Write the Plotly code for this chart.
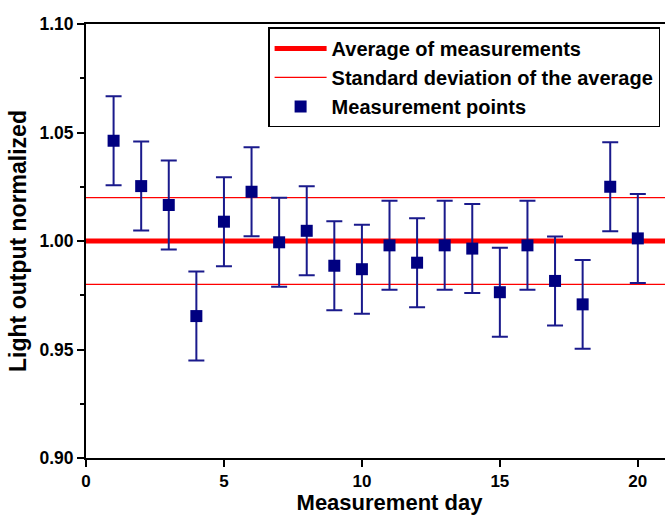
import plotly.graph_objects as go

days = list(range(1, 21))
light_output = [1.0462, 1.0253, 1.0166, 0.9654, 1.0089, 1.0227, 0.9994, 1.0047, 0.9886, 0.9870,
                0.9980, 0.9900, 0.9980, 0.9965, 0.9764, 0.9980, 0.9816, 0.9708, 1.0250, 1.0012]
errors = [0.0205] * 20
average = 1.000
std_dev = 0.020
x_span = [0, 22]

NAVY = "#000080"
RED = "#ff0000"
FONT = "Liberation Sans, Arial, sans-serif"

fig = go.Figure()
fig.add_trace(go.Scatter(
    x=x_span, y=[average, average], mode="lines",
    line=dict(color=RED, width=5), name="Average of measurements"))
fig.add_trace(go.Scatter(
    x=[x_span[0], x_span[1], None, x_span[0], x_span[1]],
    y=[average + std_dev, average + std_dev, None, average - std_dev, average - std_dev],
    mode="lines", line=dict(color=RED, width=1.3),
    name="Standard deviation of the average"))
fig.add_trace(go.Scatter(
    x=days, y=light_output, mode="markers",
    marker=dict(symbol="square", size=12, color=NAVY),
    error_y=dict(type="data", array=errors, visible=True, color="#1a1a8c", thickness=2, width=8),
    name="Measurement points"))

fig.update_layout(
    width=693, height=515,
    margin=dict(l=86, r=0, t=24, b=57),
    paper_bgcolor="white", plot_bgcolor="white",
    font=dict(family=FONT, size=17, color="black"),
    showlegend=True,
    legend=dict(
        x=0.30, y=0.992, xanchor="left", yanchor="top",
        bgcolor="white", bordercolor="black", borderwidth=1.5,
        font=dict(family=FONT, size=20, color="black", weight="bold"),
        itemwidth=52, tracegroupgap=0,
    ),
    xaxis=dict(
        range=x_span, tickmode="array", tickvals=[0, 5, 10, 15, 20],
        showgrid=False, zeroline=False, showline=True, linecolor="black", linewidth=2,
        mirror=True, ticks="outside", ticklen=7, tickwidth=2, tickcolor="black",
        tickfont=dict(family=FONT, size=17, weight="bold"), automargin=False,
        title=dict(text="Measurement day", font=dict(family=FONT, size=22, weight="bold"), standoff=10),
    ),
    yaxis=dict(
        range=[0.90, 1.10], tickmode="array", tickvals=[0.90, 0.95, 1.00, 1.05, 1.10],
        ticktext=["0.90", "0.95", "1.00", "1.05", "1.10"],
        showgrid=False, zeroline=False, showline=True, linecolor="black", linewidth=2,
        ticks="outside", ticklen=7, tickwidth=2, tickcolor="black", automargin=False,
        minor=dict(tickvals=[0.925, 0.975, 1.025, 1.075], ticks="outside", ticklen=4,
                   tickwidth=1.5, tickcolor="black"),
        tickfont=dict(family=FONT, size=17.5, weight="bold"),
        title=dict(text="Light output normalized", font=dict(family=FONT, size=23, weight="bold"), standoff=6),
    ),
)

fig.write_html(
    "out.html",
    config={"displayModeBar": False},
    post_script="document.body.style.margin='0';document.body.style.overflow='hidden';"
                "document.documentElement.style.overflow='hidden';",
)
